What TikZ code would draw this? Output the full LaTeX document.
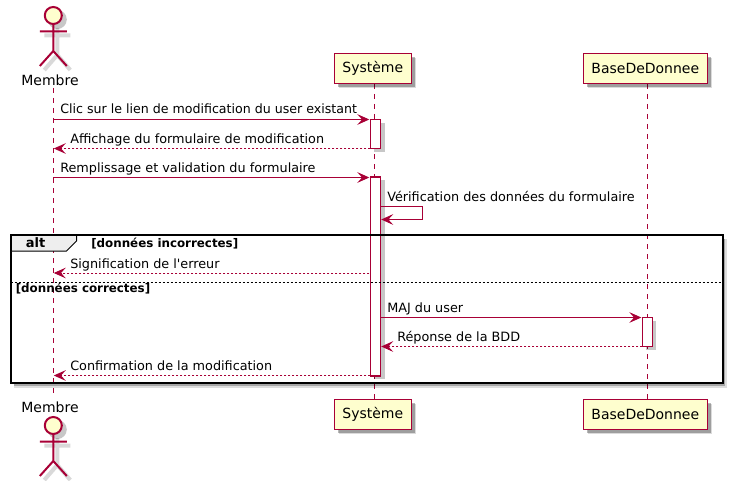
\documentclass[tikz,border=0pt]{standalone}
\usepackage{fontspec}
\setmainfont{DejaVu Sans}[Ligatures=TeXOff]
\usetikzlibrary{calc,positioning,arrows.meta,shadows}
\definecolor{umlred}{HTML}{A80036}
\definecolor{umlfill}{HTML}{FEFECE}
\definecolor{umltab}{HTML}{EEEEEE}
\tikzset{
  x=0.75pt, y=-0.75pt,
  softshadow/.style={
    drop shadow={shadow xshift=3.6pt,shadow yshift=-3.6pt,fill=black,opacity=0.14},
    drop shadow={shadow xshift=2.6pt,shadow yshift=-2.6pt,fill=black,opacity=0.28}},
  participant/.style={draw=umlred,fill=umlfill,line width=1.15pt,minimum height=22.5pt,inner sep=0pt,font=\fontsize{10.5}{12}\selectfont,softshadow},
  activation/.style={draw=umlred,fill=white,line width=0.8pt,minimum width=7.6pt,inner sep=0pt,
    drop shadow={shadow xshift=3pt,shadow yshift=-2.5pt,fill=black,opacity=0.22}},
  lifeline/.style={draw=umlred,line width=0.75pt,dash pattern=on 3.75pt off 3.75pt},
  actorline/.style={draw=umlred,line width=1.5pt},
  actorshadow/.style={draw=black,opacity=0.15,line width=3pt},
  sendmsg/.style={draw=umlred,line width=0.75pt,-{Stealth[length=9pt,width=8pt,inset=3.6pt]}},
  backmsg/.style={sendmsg,dash pattern=on 1.5pt off 1.5pt},
  msglabel/.style={anchor=base west,inner sep=0pt,font=\fontsize{9.6}{12}\selectfont},
  guardlabel/.style={anchor=base west,inner sep=0pt,font=\fontsize{8.9}{10}\selectfont\bfseries},
  actorname/.style={inner sep=0pt,font=\fontsize{10.5}{12}\selectfont}
}
\newcommand{\drawactor}[2]{% x and y of the top of the head
  \begin{scope}[shift={(#1+4,#2+4)}]
    \fill[black,opacity=0.22] (0,8.5) circle[radius=9.5];
    \draw[actorshadow] (0,17) -- (0,44) (-13,24.5) -- (13,24.5) (-13,59) -- (0,44) -- (13,59);
  \end{scope}
  \begin{scope}[shift={(#1,#2)}]
    \draw[actorline] (0,17) -- (0,44) (-13.5,24.5) -- (13.5,24.5) (-13.5,59) -- (0,44) -- (13.5,59);
    \draw[actorline,fill=umlfill] (0,8.5) circle[radius=8.5];
  \end{scope}
}
\begin{document}
\begin{tikzpicture}
\useasboundingbox (0,0) rectangle (734,481);

%==== lifelines
\coordinate (membreTop) at (53.3,88);
\coordinate (membreBot) at (53.3,396);
\coordinate (systemeTop) at (374.8,84);
\coordinate (systemeBot) at (374.8,399);
\coordinate (baseTop) at (647.3,84);
\coordinate (baseBot) at (647.3,399);
\draw[lifeline] (membreTop) -- (membreBot);
\draw[lifeline] (systemeTop) -- (systemeBot);
\draw[lifeline] (baseTop) -- (baseBot);

%==== participants
\drawactor{53.3}{7}
\drawactor{53.3}{417}
\node[actorname] (membreHaut) at (50,80) {Membre};
\node[actorname] (membreBas) at (50,407) {Membre};
\node[participant,minimum width=57.7pt] (systemeHaut) at (372.8,68.3) {Système};
\node[participant,minimum width=93pt] (baseHaut) at (645.3,68.3) {BaseDeDonnee};
\node[participant,minimum width=57.7pt] (systemeBas) at (372.8,414.3) {Système};
\node[participant,minimum width=93pt] (baseBas) at (645.3,414.3) {BaseDeDonnee};

%==== activations
\node[activation,minimum height=21.75pt] (actA) at (375.5,133.8) {};
\node[activation,minimum height=149.25pt] (actB) at (375.5,276.5) {};
\node[activation,minimum height=21.75pt] (actC) at (647.3,332.2) {};

%==== alt frame
\draw[black,opacity=0.13,line width=3.2pt] (14,386) -- (725,386) -- (725,239);
\draw[black,opacity=0.25,line width=1.6pt] (14,385) -- (724,385) -- (724,239);
\draw[line width=1.5pt] (10.5,235) rectangle (722.5,383);
\draw[line width=0.75pt,fill=umltab] (10.5,235) -- (76.5,235) -- (76.5,241) -- (66.5,251) -- (10.5,251) -- cycle;
\draw[line width=1.5pt] (10.5,235) -- (76.5,235) (10.5,235) -- (10.5,251);
\node[inner sep=0pt,font=\fontsize{9.75}{12}\selectfont\bfseries] (altTag) at (35.5,243) {alt};
\node[guardlabel] (gardeA) at (91,247) {[données incorrectes]};
\node[guardlabel] (gardeB) at (15.5,292) {[données correctes]};
\coordinate (sepA) at (10.5,282);
\coordinate (sepB) at (722.5,282);
\draw[line width=0.75pt,dash pattern=on 1.5pt off 1.5pt] (sepA) -- (sepB);

%==== messages
\coordinate (m1) at (53.3,119.5);
\coordinate (m2) at (53.8,148.5);
\coordinate (m3) at (53.3,177.5);
\coordinate (m5) at (53.8,273);
\coordinate (m8) at (53.8,375.5);
\coordinate (s1) at (369.3,119.5);
\coordinate (s2) at (370.3,148.5);
\coordinate (s3) at (369.3,177.5);
\coordinate (s4a) at (380.7,206.5);
\coordinate (s4b) at (381.2,219.5);
\coordinate (s5) at (369.3,273);
\coordinate (s6) at (380.7,317.5);
\coordinate (s7) at (381.2,346.5);
\coordinate (s8) at (370.3,375.5);
\coordinate (b6) at (641.3,317.5);
\coordinate (b7) at (642.3,346.5);
\draw[sendmsg] (m1) -- (s1);
\draw[backmsg] (s2) -- (m2);
\draw[sendmsg] (m3) -- (s3);
\draw[sendmsg] (s4a) -- ++(41.5,0) -- ++(0,13) -- (s4b);
\draw[backmsg] (s5) -- (m5);
\draw[sendmsg] (s6) -- (b6);
\draw[backmsg] (b7) -- (s7);
\draw[backmsg] (s8) -- (m8);

\node[msglabel,xscale=0.985] (txtA) at (60,114) {Clic sur le lien de modification du user existant};
\node[msglabel] (txtB) at (70,143) {Affichage du formulaire de modification};
\node[msglabel] (txtC) at (60,172) {Remplissage et validation du formulaire};
\node[msglabel] (txtD) at (387,201) {Vérification des données du formulaire};
\node[msglabel] (txtE) at (70,268) {Signification de l'erreur};
\node[msglabel] (txtF) at (387,312) {MAJ du user};
\node[msglabel] (txtG) at (397,341) {Réponse de la BDD};
\node[msglabel] (txtH) at (70,370) {Confirmation de la modification};
\end{tikzpicture}
\end{document}
